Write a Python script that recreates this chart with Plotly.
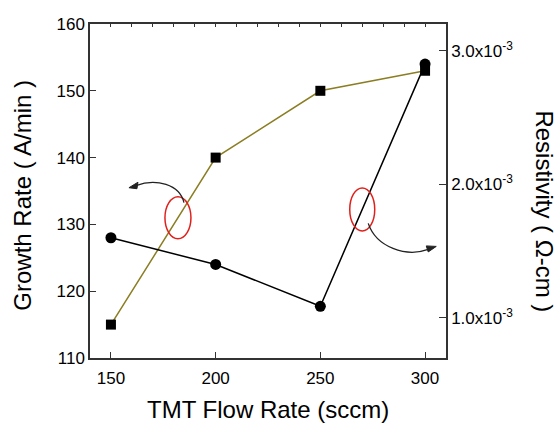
import plotly.graph_objects as go

# TMT flow rate (sccm) and the two measured quantities
flow_rate = [150, 200, 250, 300]
growth_rate = [115, 140, 150, 153]                 # A/min
resistivity = [1.60e-3, 1.40e-3, 1.087e-3, 2.90e-3]  # ohm-cm

x_ticks = [150, 200, 250, 300]
y_ticks = [110, 120, 130, 140, 150, 160]
res_ticks = [1.0e-3, 2.0e-3, 3.0e-3]
res_tick_text = ["1.0x10<sup>-3</sup>", "2.0x10<sup>-3</sup>", "3.0x10<sup>-3</sup>"]

FONT = "Liberation Sans, Arial, sans-serif"
AXIS_COLOR = "#333333"
OLIVE = "#8b7d21"


def on_line(xs, ys, xq):
    """Linear position on a polyline at xq."""
    for (xa, ya), (xb, yb) in zip(zip(xs, ys), zip(xs[1:], ys[1:])):
        if xa <= xq <= xb:
            return ya + (yb - ya) * (xq - xa) / (xb - xa)
    return ys[-1]


fig = go.Figure()

fig.add_trace(go.Scatter(
    x=flow_rate, y=growth_rate, mode="lines+markers",
    line=dict(color=OLIVE, width=1.5),
    marker=dict(symbol="square", size=10, color="black"),
    yaxis="y", showlegend=False,
))
fig.add_trace(go.Scatter(
    x=flow_rate, y=resistivity, mode="lines+markers",
    line=dict(color="black", width=1.5),
    marker=dict(symbol="circle", size=11, color="black"),
    yaxis="y2", showlegend=False,
))

# Ellipses marking each curve, with curved arrows pointing to its axis
left_x = 182
left_y = on_line(flow_rate, growth_rate, left_x)
right_x = 270
right_y = on_line(flow_rate, resistivity, right_x)

shapes = [
    dict(type="circle", xref="x", yref="y", xsizemode="pixel", ysizemode="pixel",
         xanchor=left_x, yanchor=left_y, x0=-13, x1=13, y0=-21, y1=21,
         line=dict(color="#e0201b", width=1.5)),
    dict(type="circle", xref="x", yref="y2", xsizemode="pixel", ysizemode="pixel",
         xanchor=right_x, yanchor=right_y, x0=-12.5, x1=12.5, y0=-21.5, y1=21.5,
         line=dict(color="#e0201b", width=1.5)),
    # left arrow: curve up and to the left
    dict(type="path", xref="x", yref="y", xsizemode="pixel", ysizemode="pixel",
         xanchor=left_x, yanchor=left_y,
         path="M 6 15 C 2 33, -22 40, -42 32",
         line=dict(color="#222222", width=1.3)),
    dict(type="path", xref="x", yref="y", xsizemode="pixel", ysizemode="pixel",
         xanchor=left_x, yanchor=left_y,
         path="M -49 30 L -40 35.5 L -41 29 Z",
         fillcolor="#222222", line=dict(color="#222222", width=1)),
    # right arrow: curve down and to the right
    dict(type="path", xref="x", yref="y2", xsizemode="pixel", ysizemode="pixel",
         xanchor=right_x, yanchor=right_y,
         path="M 6 -14 C 14 -38, 44 -48, 66 -40",
         line=dict(color="#222222", width=1.3)),
    dict(type="path", xref="x", yref="y2", xsizemode="pixel", ysizemode="pixel",
         xanchor=right_x, yanchor=right_y,
         path="M 74 -37 L 64 -36.5 L 66 -42.5 Z",
         fillcolor="#222222", line=dict(color="#222222", width=1)),
]

annotations = [
    dict(text="TMT Flow Rate (sccm)", xref="paper", yref="paper",
         x=0.5, y=-0.153, showarrow=False,
         xanchor="center", yanchor="middle",
         font=dict(family=FONT, size=24, color="black")),
    dict(text="Growth Rate ( A/min )", xref="paper", yref="paper",
         x=-0.19, y=0.487, textangle=-90, showarrow=False,
         xanchor="center", yanchor="middle",
         font=dict(family=FONT, size=24, color="black")),
    dict(text="Resistivity ( \u03a9-cm )", xref="paper", yref="paper",
         x=1.277, y=0.44, textangle=90, showarrow=False,
         xanchor="center", yanchor="middle",
         font=dict(family=FONT, size=24, color="black")),
]

fig.update_layout(
    width=559, height=423,
    margin=dict(l=90, r=113, t=24, b=65, autoexpand=False),
    paper_bgcolor="white", plot_bgcolor="white",
    font=dict(family=FONT, size=17, color="black"),
    shapes=shapes, annotations=annotations,
    xaxis=dict(
        range=[140, 310], tickvals=x_ticks,
        ticks="inside", ticklen=6, tickwidth=1.3, tickcolor=AXIS_COLOR,
        ticklabelstandoff=4, automargin=False,
        showline=True, linecolor=AXIS_COLOR, linewidth=1.5, mirror=True,
        showgrid=False, zeroline=False,
    ),
    xaxis2=dict(
        range=[140, 310], overlaying="x", side="top", dtick=10, tick0=0,
        ticks="inside", ticklen=3, tickwidth=1, tickcolor=AXIS_COLOR,
        showticklabels=False, showgrid=False, zeroline=False, showline=False,
    ),
    yaxis=dict(
        range=[110, 160], tickvals=y_ticks,
        ticks="inside", ticklen=6, tickwidth=1.3, tickcolor=AXIS_COLOR,
        showline=True, linecolor=AXIS_COLOR, linewidth=1.5, automargin=False,
        showgrid=False, zeroline=False,
    ),
    yaxis2=dict(
        range=[0.7e-3, 3.2e-3], overlaying="y", side="right",
        tickvals=res_ticks, ticktext=res_tick_text,
        ticks="inside", ticklen=7, tickwidth=1.3, tickcolor=AXIS_COLOR,
        showline=True, linecolor=AXIS_COLOR, linewidth=1.5, automargin=False,
        showgrid=False, zeroline=False,
    ),
)

# empty trace to activate the top tick axis
fig.add_trace(go.Scatter(x=[None], y=[None], xaxis="x2", yaxis="y",
                         showlegend=False, hoverinfo="skip"))

fig.write_html("out.html")
